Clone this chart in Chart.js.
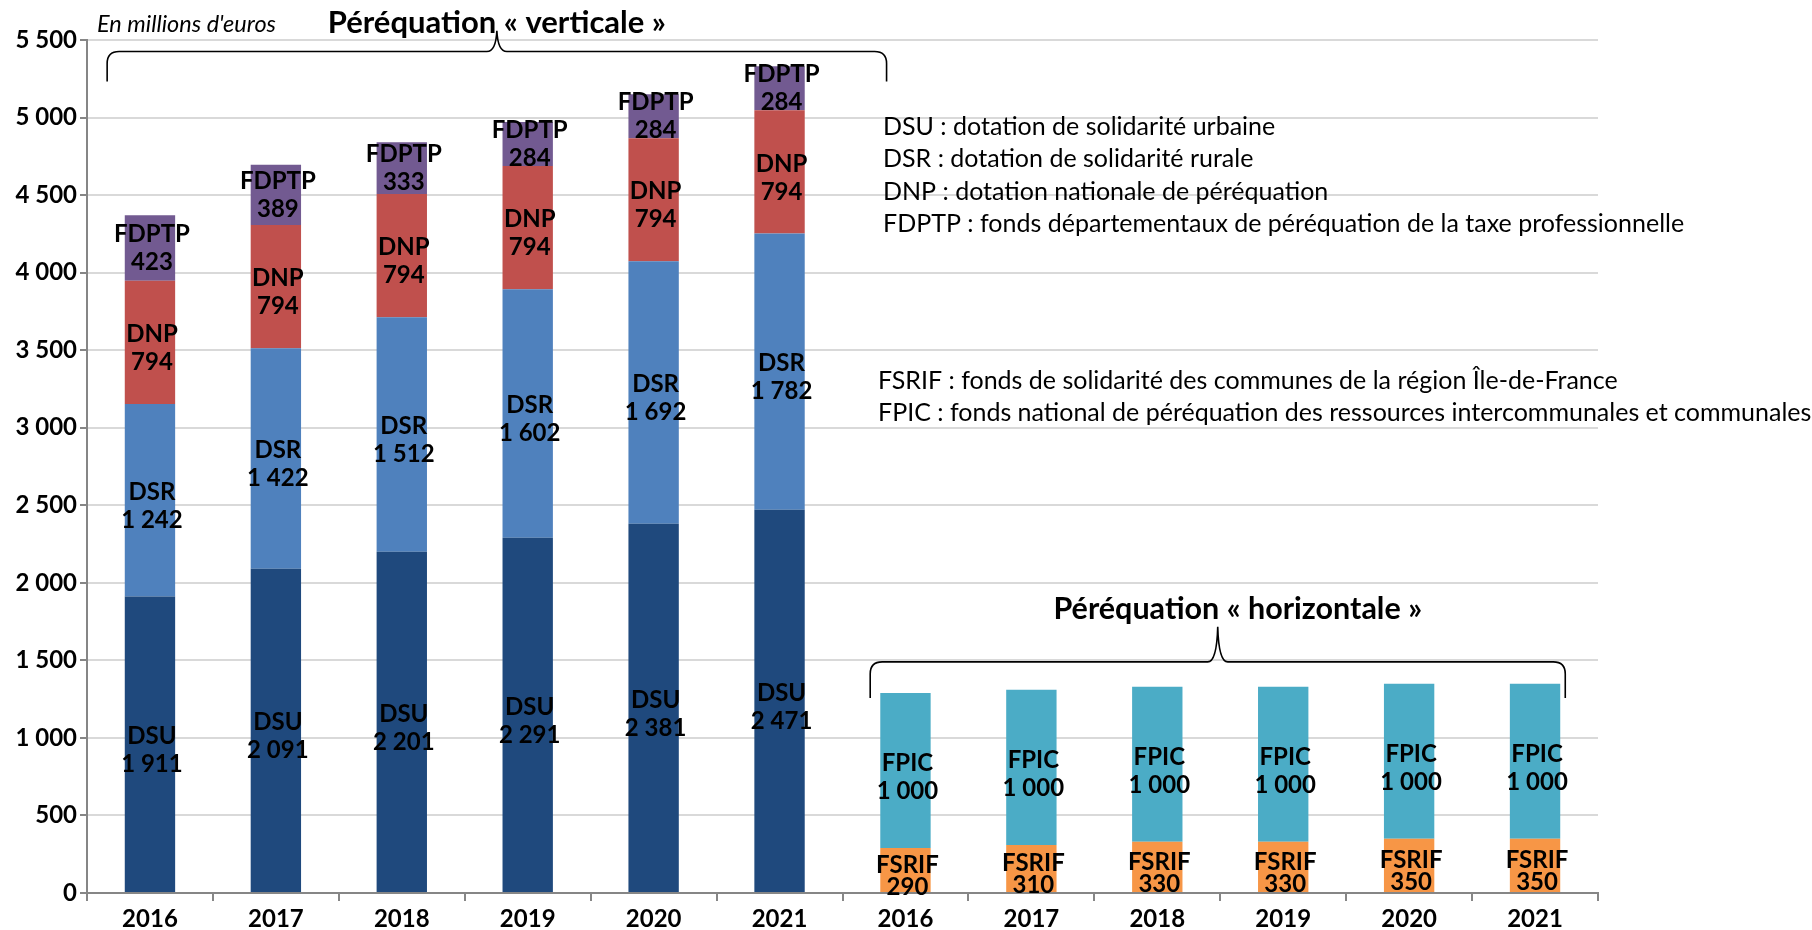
<!DOCTYPE html>
<html>
<head>
<meta charset="utf-8">
<script src="https://cdn.jsdelivr.net/npm/chart.js@4/dist/chart.umd.min.js"></script>
<style>
html,body{margin:0;padding:0;background:#fff;}
#wrap{width:1812px;height:930px;position:relative;}
</style>
</head>
<body>
<div id="wrap"><canvas id="c" width="1812" height="930"></canvas></div>
<script>
// ---- Data ----
const years = ['2016','2017','2018','2019','2020','2021'];
const categories = years.concat(years);
const dsu   = [1911, 2091, 2201, 2291, 2381, 2471];
const dsr   = [1242, 1422, 1512, 1602, 1692, 1782];
const dnp   = [794, 794, 794, 794, 794, 794];
const fdptp = [423, 389, 333, 284, 284, 284];
const fsrif = [290, 310, 330, 330, 350, 350];
const fpic  = [1000, 1000, 1000, 1000, 1000, 1000];
const yTicks = [0, 500, 1000, 1500, 2000, 2500, 3000, 3500, 4000, 4500, 5000, 5500];
const unitText = "En millions d'euros";
const titleVert = 'Péréquation « verticale »';
const titleHoriz = 'Péréquation « horizontale »';
const glossVert = [
  'DSU : dotation de solidarité urbaine',
  'DSR : dotation de solidarité rurale',
  'DNP : dotation nationale de péréquation',
  'FDPTP : fonds départementaux de péréquation de la taxe professionnelle'
];
const glossHoriz = [
  'FSRIF : fonds de solidarité des communes de la région Île-de-France',
  'FPIC : fonds national de péréquation des ressources intercommunales et communales'
];

const empty = [null, null, null, null, null, null];
const fmt = v => String(v).replace(/\B(?=(\d{3})+(?!\d))/g, ' ');

const FONT = 'Lato, "Open Sans", "DejaVu Sans", sans-serif';

function ds(label, left, right, color, spacing, shift) {
  return {
    label, data: left.concat(right), backgroundColor: color,
    borderWidth: 0, stack: 's', barPercentage: 0.4, categoryPercentage: 1,
    labelSpacing: spacing, labelShift: shift
  };
}

const datasets = [
  ds('DSU', dsu, empty, '#1F497D', 28, 6),
  ds('DSR', dsr, empty, '#4F81BD', 28, 6),
  ds('DNP', dnp, empty, '#C0504D', 28, 6),
  ds('FDPTP', fdptp, empty, '#725A91', 28, 0),
  ds('FSRIF', empty, fsrif, '#F79646', 22, 6),
  ds('FPIC', empty, fpic, '#4BACC6', 28, 7)
];

const labelPlugin = {
  id: 'segLabels',
  afterDatasetsDraw(chart) {
    const ctx = chart.ctx;
    ctx.save();
    ctx.fillStyle = '#000';
    ctx.font = 'bold 24px ' + FONT;
    ctx.textAlign = 'center';
    ctx.textBaseline = 'middle';
    chart.data.datasets.forEach((d, i) => {
      const meta = chart.getDatasetMeta(i);
      meta.data.forEach((el, j) => {
        const v = d.data[j];
        if (v == null) return;
        const p = el.getProps(['x', 'y', 'base'], true);
        const cy = (p.y + p.base) / 2 + d.labelShift;
        const sp = d.labelSpacing;
        ctx.fillText(d.label, p.x + 2, cy - sp / 2);
        ctx.fillText(fmt(v), p.x + 2, cy + sp / 2);
      });
    });
    ctx.restore();
  }
};

function brace(ctx, L, R, C, yLine, yEnd, yTop) {
  const r = 12;
  ctx.beginPath();
  ctx.moveTo(L, yEnd);
  ctx.lineTo(L, yLine + r);
  ctx.quadraticCurveTo(L, yLine, L + r, yLine);
  ctx.lineTo(C - 10, yLine);
  ctx.quadraticCurveTo(C - 1, yLine, C, yTop);
  ctx.quadraticCurveTo(C + 1, yLine, C + 10, yLine);
  ctx.lineTo(R - r, yLine);
  ctx.quadraticCurveTo(R, yLine, R, yLine + r);
  ctx.lineTo(R, yEnd);
  ctx.stroke();
}

const annotPlugin = {
  id: 'annot',
  afterDraw(chart) {
    const ctx = chart.ctx;
    const xs = chart.scales.x, ys = chart.scales.y;
    const cw = xs.getPixelForValue(1) - xs.getPixelForValue(0);
    ctx.save();
    ctx.strokeStyle = '#000';
    ctx.lineWidth = 1.6;
    // vertical brace
    const vL = xs.getPixelForValue(0) - 0.34 * cw;
    const vR = xs.getPixelForValue(5) + 0.85 * cw;
    brace(ctx, vL, vR, (vL + vR) / 2, ys.getPixelForValue(5426), ys.getPixelForValue(5232), ys.getPixelForValue(5560));
    // horizontal brace
    const hL = xs.getPixelForValue(6) - 0.28 * cw;
    const hR = xs.getPixelForValue(11) + 0.24 * cw;
    brace(ctx, hL, hR, (hL + hR) / 2, ys.getPixelForValue(1490), ys.getPixelForValue(1258), ys.getPixelForValue(1716));

    ctx.fillStyle = '#000';
    ctx.textBaseline = 'middle';
    // titles
    ctx.textAlign = 'center';
    ctx.font = 'bold 31px ' + FONT;
    ctx.fillText(titleVert, (vL + vR) / 2, 23);
    ctx.font = 'bold 30.5px ' + FONT;
    ctx.fillText(titleHoriz, (hL + hR) / 2 + 20, ys.getPixelForValue(1830));
    // unit
    ctx.textAlign = 'left';
    ctx.font = 'italic 23.5px ' + FONT;
    ctx.fillText(unitText, 97, 24);
    // glossary
    ctx.font = '25px ' + FONT;
    glossVert.forEach((t, i) => ctx.fillText(t, 883, 127 + i * 32.4));
    glossHoriz.forEach((t, i) => ctx.fillText(t, 878, 381 + i * 32.4));
    ctx.restore();
  }
};

new Chart(document.getElementById('c'), {
  type: 'bar',
  data: { labels: categories, datasets },
  options: {
    responsive: false,
    animation: false,
    layout: { padding: { top: 40, right: 214, bottom: 0, left: 0 } },
    plugins: { legend: { display: false }, tooltip: { enabled: false } },
    scales: {
      x: {
        stacked: true,
        grid: { offset: true, drawOnChartArea: false, drawTicks: true, tickLength: 8, tickColor: '#868686', lineWidth: 2 },
        border: { color: '#868686', width: 2 },
        ticks: { color: '#000', font: { family: FONT, size: 24, weight: 'bold' }, padding: 4, maxRotation: 0, autoSkip: false },
        afterFit(s) { s.height = 37; }
      },
      y: {
        stacked: true,
        min: 0, max: 5500,
        afterBuildTicks(s) { s.ticks = yTicks.map(v => ({ value: v })); },
        grid: { color: '#D9D9D9', lineWidth: 2, tickColor: '#868686', tickLength: 7 },
        border: { color: '#868686', width: 2 },
        ticks: { color: '#000', font: { family: FONT, size: 24, weight: 'bold' }, padding: 3, callback: v => fmt(v) },
        afterFit(s) { s.width = 87; }
      }
    }
  },
  plugins: [labelPlugin, annotPlugin]
});
</script>
</body>
</html>
